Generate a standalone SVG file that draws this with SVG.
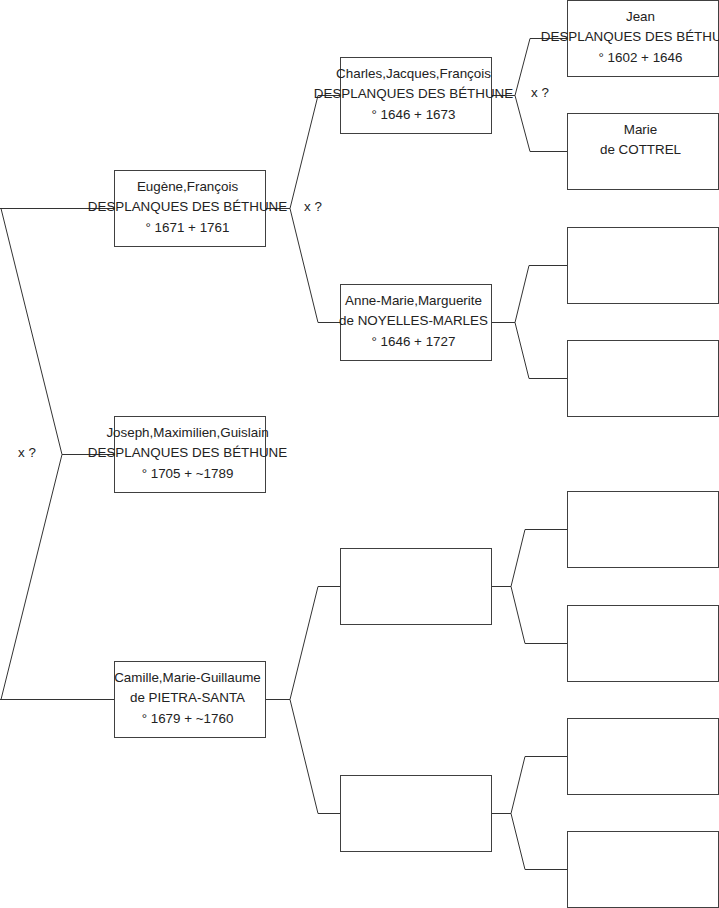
<svg xmlns="http://www.w3.org/2000/svg" width="719" height="908" viewBox="0 0 719 908">
<style>
.box{fill:#fff;stroke:#404040;stroke-width:1}
.ln{fill:none;stroke:#333;stroke-width:1}
text{font-family:"Liberation Sans",Arial,sans-serif;font-size:13.4px;fill:#222}
.c{text-anchor:middle}
</style>
<rect width="719" height="908" fill="#fff"/>
<g id="connectors">
<path class="ln" d="M0,208.5H114.5M0,699.5H114.5M1,208.5L62,454.5L1,699.5M62,454.5H114.5"/>
<path class="ln" d="M265.5,208.5H290M318,95.5L290,208.5L318,322.5M318,95.5H340.5M318,322.5H340.5"/>
<path class="ln" d="M265.5,699.5H290M318,586.5L290,699.5L318,813.5M318,586.5H340.5M318,813.5H340.5"/>
<path class="ln" d="M491.5,95.5H515M530,38.5L515,95.5L530,151.5M530,38.5H567.5M530,151.5H567.5"/>
<path class="ln" d="M491.5,322.5H515M529,265.5L515,322.5L529,378.5M529,265.5H567.5M529,378.5H567.5"/>
<path class="ln" d="M491.5,586.5H511M525,529.5L511,586.5L525,643.5M525,529.5H567.5M525,643.5H567.5"/>
<path class="ln" d="M491.5,813.5H511M525,756.5L511,813.5L525,869.5M525,756.5H567.5M525,869.5H567.5"/>
<text x="18" y="456.5">x ?</text>
<text x="304" y="210.5">x ?</text>
<text x="531" y="96.5">x ?</text>
</g>
<g id="n1"><rect class="box" x="114.5" y="170.5" width="151" height="76"/>
<text class="c" x="187.5" y="190.5">Eugène,François</text><text class="c" x="187.5" y="211">DESPLANQUES DES BÉTHUNE</text><text class="c" x="187.5" y="231.5">° 1671 + 1761</text></g>
<g id="n2"><rect class="box" x="114.5" y="416.5" width="151" height="76"/>
<text class="c" x="187.5" y="436.5">Joseph,Maximilien,Guislain</text><text class="c" x="187.5" y="457">DESPLANQUES DES BÉTHUNE</text><text class="c" x="187.5" y="477.5">° 1705 + ~1789</text></g>
<g id="n3"><rect class="box" x="114.5" y="661.5" width="151" height="76"/>
<text class="c" x="187.5" y="681.5">Camille,Marie-Guillaume</text><text class="c" x="187.5" y="702">de PIETRA-SANTA</text><text class="c" x="187.5" y="722.5">° 1679 + ~1760</text></g>
<g id="n4"><rect class="box" x="340.5" y="57.5" width="151" height="76"/>
<text class="c" x="413.5" y="77.5">Charles,Jacques,François</text><text class="c" x="413.5" y="98">DESPLANQUES DES BÉTHUNE</text><text class="c" x="413.5" y="118.5">° 1646 + 1673</text></g>
<g id="n5"><rect class="box" x="340.5" y="284.5" width="151" height="76"/>
<text class="c" x="413.5" y="304.5">Anne-Marie,Marguerite</text><text class="c" x="413.5" y="325">de NOYELLES-MARLES</text><text class="c" x="413.5" y="345.5">° 1646 + 1727</text></g>
<g id="n6"><rect class="box" x="340.5" y="548.5" width="151" height="76"/></g>
<g id="n7"><rect class="box" x="340.5" y="775.5" width="151" height="76"/></g>
<g id="n8"><rect class="box" x="567.5" y="0.5" width="151" height="76"/>
<text class="c" x="640.5" y="20.5">Jean</text><text class="c" x="640.5" y="41">DESPLANQUES DES BÉTHUNE</text><text class="c" x="640.5" y="61.5">° 1602 + 1646</text></g>
<g id="n9"><rect class="box" x="567.5" y="113.5" width="151" height="76"/>
<text class="c" x="640.5" y="133.5">Marie</text><text class="c" x="640.5" y="154">de COTTREL</text></g>
<g id="n10"><rect class="box" x="567.5" y="227.5" width="151" height="76"/></g>
<g id="n11"><rect class="box" x="567.5" y="340.5" width="151" height="76"/></g>
<g id="n12"><rect class="box" x="567.5" y="491.5" width="151" height="76"/></g>
<g id="n13"><rect class="box" x="567.5" y="605.5" width="151" height="76"/></g>
<g id="n14"><rect class="box" x="567.5" y="718.5" width="151" height="76"/></g>
<g id="n15"><rect class="box" x="567.5" y="831.5" width="151" height="76"/></g>
</svg>
